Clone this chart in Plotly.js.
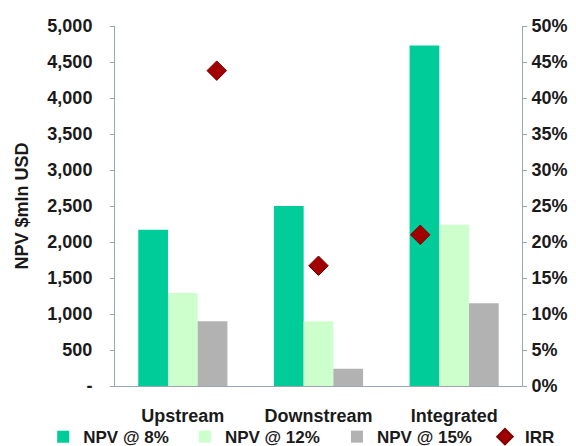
<!DOCTYPE html>
<html><head><meta charset="utf-8">
<script src="https://cdn.plot.ly/plotly-3.0.1.min.js"></script>
<style>html,body{margin:0;padding:0;background:#fff}#chart{width:576px;height:446px}</style>
</head><body><div id="chart"></div>
<script>
const categories = ["Upstream", "Downstream", "Integrated"];
const npv8 = [2170, 2500, 4730];
const npv12 = [1290, 900, 2240];
const npv15 = [900, 240, 1150];
const irr = [0.438, 0.167, 0.21];
const leftTickVals = [0, 500, 1000, 1500, 2000, 2500, 3000, 3500, 4000, 4500, 5000];
const leftTickText = ["-", "500", "1,000", "1,500", "2,000", "2,500", "3,000", "3,500", "4,000", "4,500", "5,000"];
const seriesNames = ["NPV @ 8%", "NPV @ 12%", "NPV @ 15%", "IRR"];

const FAM = "Liberation Sans, Arial, sans-serif";
const TXT = "#1a1a1a";
const axisColor = "#9aa6b8";
const tf = (s) => ({family: FAM, size: s, color: TXT, weight: "bold"});

const data = [
  {type: "bar", name: seriesNames[0], x: categories, y: npv8, marker: {color: "#00CC99"}, legend: "legend"},
  {type: "bar", name: seriesNames[1], x: categories, y: npv12, marker: {color: "#CCFFCC"}, legend: "legend2"},
  {type: "bar", name: seriesNames[2], x: categories, y: npv15, marker: {color: "#B2B2B2"}, legend: "legend3"},
  {type: "scatter", mode: "markers", name: seriesNames[3], x: categories, y: irr, xaxis: "x2", yaxis: "y2",
   legend: "legend4",
   marker: {symbol: "diamond", size: 15, color: "#A00000", line: {color: "#800000", width: 1}}}
];

const legBase = (x) => ({orientation: "h", xref: "container", yref: "container",
  x: x, xanchor: "left", y: 0.02, yanchor: "middle",
  font: tf(17), bgcolor: "rgba(0,0,0,0)", borderwidth: 0, itemsizing: "constant"});

const layout = {
  width: 576, height: 446,
  margin: {l: 115, r: 54, t: 26, b: 60},
  paper_bgcolor: "#fff", plot_bgcolor: "rgba(0,0,0,0)",
  font: tf(17),
  barmode: "group", bargap: 0.343, bargroupgap: 0,
  showlegend: true,
  legend: legBase(0.075),
  legend2: legBase(0.321),
  legend3: legBase(0.585),
  legend4: legBase(0.842),
  xaxis: {type: "category", showline: true, linecolor: axisColor, linewidth: 1,
          ticks: "", tickfont: tf(18), showgrid: false, zeroline: false, ticklabelstandoff: 13},
  xaxis2: {type: "category", overlaying: "x", range: [-1, 3], visible: false},
  yaxis: {range: [0, 5000], tickvals: leftTickVals, ticktext: leftTickText, showline: true,
          linecolor: axisColor, ticks: "outside", ticklen: 4, tickcolor: axisColor, showgrid: false,
          zeroline: false, tickfont: tf(18), ticklabelstandoff: 14,
          title: {text: "NPV $mln USD", font: tf(18), standoff: 14}},
  yaxis2: {range: [0, 0.5], overlaying: "y", side: "right", tickformat: ".0%", dtick: 0.05,
           showline: true, linecolor: axisColor, ticks: "outside", ticklen: 4, tickcolor: axisColor,
           showgrid: false, zeroline: false, tickfont: tf(18), ticklabelstandoff: 1},
  shapes: [
    {type: "line", xref: "x", yref: "y", x0: 0.5, x1: 0.5, y0: 0, y1: -70, line: {color: axisColor, width: 1}},
    {type: "line", xref: "x", yref: "y", x0: 1.5, x1: 1.5, y0: 0, y1: -70, line: {color: axisColor, width: 1}}
  ]
};
Plotly.newPlot("chart", data, layout, {displayModeBar: false, staticPlot: true});
</script></body></html>
